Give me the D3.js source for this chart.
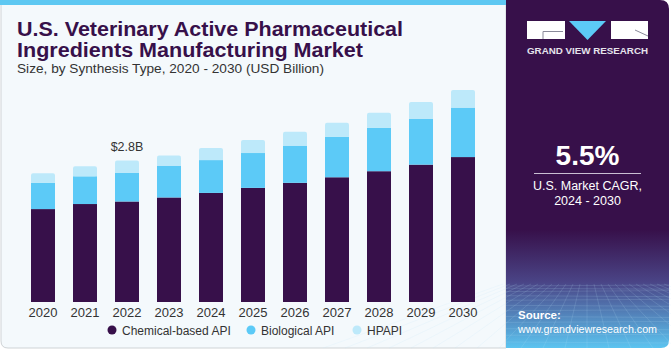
<!DOCTYPE html>
<html>
<head>
<meta charset="utf-8">
<script src="https://cdn.jsdelivr.net/npm/d3@7"></script>
<style>
  html, body { margin: 0; padding: 0; background: #ffffff; }
  svg { display: block; font-family: "Liberation Sans", Arial, sans-serif; }
</style>
</head>
<body>
<div id="chart"></div>
<script>
// data (USD Billion)
var years = ['2020', '2021', '2022', '2023', '2024', '2025', '2026', '2027', '2028', '2029', '2030'];
var chemical = [1.84, 1.94, 1.99, 2.07, 2.16, 2.26, 2.36, 2.47, 2.59, 2.72, 2.87];
var biological = [0.52, 0.55, 0.57, 0.63, 0.65, 0.69, 0.73, 0.80, 0.86, 0.91, 0.98];
var hpapi = [0.19, 0.20, 0.24, 0.20, 0.24, 0.26, 0.28, 0.28, 0.30, 0.33, 0.35];
var seriesNames = ['Chemical-based API', 'Biological API', 'HPAPI'];
var seriesColors = ['#37104a', '#5ccaf7', '#bde9fa'];
var callout = {year: '2022', label: '$2.8B'};

var W = 671, H = 350;

var svg = d3.select('#chart').append('svg')
    .attr('width', W).attr('height', H);

var defs = svg.append('defs');

// left panel
svg.append('path')
    .attr('d', 'M1,4 H506 V348 H8 Q1,348 1,341 Z')
    .attr('fill', '#f4f9fc')
    .attr('stroke', '#cfd3d6')
    .attr('stroke-width', 1);
svg.append('rect')
    .attr('x', 0).attr('y', 0).attr('width', 506).attr('height', 5)
    .attr('fill', '#5ec8f2');

// right panel
var grad = defs.append('linearGradient')
    .attr('id', 'panelGrad').attr('x1', 0).attr('y1', 0).attr('x2', 0).attr('y2', 1);
grad.append('stop').attr('offset', '0%').attr('stop-color', '#37104a');
grad.append('stop').attr('offset', '66%').attr('stop-color', '#37104a');
grad.append('stop').attr('offset', '81%').attr('stop-color', '#4a4486');
grad.append('stop').attr('offset', '100%').attr('stop-color', '#5cc4f0');

svg.append('path')
    .attr('d', 'M506,0 H660 Q669,0 669,9 V340 Q669,348 661,348 H506 Z')
    .attr('fill', 'url(#panelGrad)');

// faint grid in the panel bottom
var gridG = svg.append('g').attr('stroke', '#bfe6fb').attr('stroke-opacity', 0.22).attr('stroke-width', 0.7);
d3.range(0, 14).forEach(function(i) {
    var yy = 286 + Math.pow(i, 1.35) * 2.2;
    if (yy < 347) gridG.append('line').attr('x1', 506).attr('x2', 669).attr('y1', yy).attr('y2', yy + (i % 2 ? 1 : -1));
});
d3.range(-12, 13).forEach(function(i) {
    gridG.append('line')
        .attr('x1', 587 + i * 7).attr('y1', 284)
        .attr('x2', 587 + i * 22).attr('y2', 348);
});

// logo
var logo = svg.append('g');
logo.append('rect').attr('x', 527).attr('y', 21).attr('width', 38).attr('height', 18).attr('fill', '#ffffff');
logo.append('path').attr('d', 'M569,21 H606 L587.5,40 Z').attr('fill', '#5ccaf7');
logo.append('rect').attr('x', 611).attr('y', 21).attr('width', 37).attr('height', 18).attr('fill', '#ffffff');
logo.append('path').attr('d', 'M543,39 V31.5 H563').attr('fill', 'none').attr('stroke', '#8a8a9a').attr('stroke-width', 1);
logo.append('path').attr('d', 'M635,30 L648,36').attr('fill', 'none').attr('stroke', '#8a8a9a').attr('stroke-width', 1);
logo.append('text')
    .attr('x', 527).attr('y', 54)
    .attr('textLength', 121).attr('lengthAdjust', 'spacingAndGlyphs')
    .attr('font-size', 9.5).attr('font-weight', 'bold').attr('fill', '#e6e3ec')
    .text('GRAND VIEW RESEARCH');

// CAGR
svg.append('text')
    .attr('x', 587.5).attr('y', 165).attr('text-anchor', 'middle')
    .attr('font-size', 28).attr('font-weight', 'bold').attr('fill', '#ffffff')
    .text('5.5%');
svg.append('line')
    .attr('x1', 534).attr('x2', 641).attr('y1', 173.5).attr('y2', 173.5)
    .attr('stroke', '#c9bfd3').attr('stroke-width', 1.2);
svg.append('text')
    .attr('x', 587.5).attr('y', 190).attr('text-anchor', 'middle')
    .attr('font-size', 12.5).attr('fill', '#ffffff')
    .text('U.S. Market CAGR,');
svg.append('text')
    .attr('x', 587.5).attr('y', 205).attr('text-anchor', 'middle')
    .attr('font-size', 12.5).attr('fill', '#ffffff')
    .text('2024 - 2030');

// source
svg.append('text')
    .attr('x', 518).attr('y', 319)
    .attr('font-size', 11.5).attr('font-weight', 'bold').attr('fill', '#ffffff')
    .text('Source:');
svg.append('text')
    .attr('x', 518).attr('y', 333)
    .attr('textLength', 139).attr('lengthAdjust', 'spacingAndGlyphs')
    .attr('font-size', 11.5).attr('fill', '#ffffff')
    .text('www.grandviewresearch.com');

// title
svg.append('text')
    .attr('x', 17).attr('y', 36)
    .attr('textLength', 386).attr('lengthAdjust', 'spacingAndGlyphs')
    .attr('font-size', 20).attr('font-weight', 'bold').attr('fill', '#37104a')
    .text('U.S. Veterinary Active Pharmaceutical');
svg.append('text')
    .attr('x', 17).attr('y', 57)
    .attr('textLength', 346).attr('lengthAdjust', 'spacingAndGlyphs')
    .attr('font-size', 20).attr('font-weight', 'bold').attr('fill', '#37104a')
    .text('Ingredients Manufacturing Market');
svg.append('text')
    .attr('x', 17).attr('y', 73)
    .attr('textLength', 307).attr('lengthAdjust', 'spacingAndGlyphs')
    .attr('font-size', 13).attr('fill', '#333333')
    .text('Size, by Synthesis Type, 2020 - 2030 (USD Billion)');

// scales
var x = d3.scaleBand()
    .domain(years)
    .range([10, 496])
    .paddingInner(0.4286)
    .paddingOuter(0.5);

var y = d3.scaleLinear()
    .domain([0, 4.2])
    .range([302, 302 - 4.2 * 50.5]);

var table = years.map(function(yr, i) {
    return {year: yr, c: chemical[i], b: biological[i], h: hpapi[i]};
});
var stack = d3.stack().keys(['c', 'b', 'h']);
var layers = stack(table);

var barsG = svg.append('g');
layers.forEach(function(layer, li) {
    barsG.selectAll('.bar' + li)
        .data(layer)
        .enter().append('rect')
        .attr('class', 'bar' + li)
        .attr('x', function(d) { return x(d.data.year); })
        .attr('width', x.bandwidth())
        .attr('y', function(d) { return y(d[1]); })
        .attr('height', function(d) { return y(d[0]) - y(d[1]); })
        .attr('rx', li === 2 ? 2 : 0)
        .attr('fill', seriesColors[li]);
});
// small fix so the rounded top only shows at the top of the HPAPI segment
barsG.selectAll('.fix')
    .data(layers[2])
    .enter().append('rect')
    .attr('x', function(d) { return x(d.data.year); })
    .attr('width', x.bandwidth())
    .attr('y', function(d) { return y(d[0]) - 3; })
    .attr('height', 3)
    .attr('fill', seriesColors[2]);

// callout
var cIdx = years.indexOf(callout.year);
svg.append('text')
    .attr('x', x(callout.year) + x.bandwidth() / 2)
    .attr('y', y(layers[2][cIdx][1]) - 10)
    .attr('text-anchor', 'middle')
    .attr('font-size', 12.5).attr('fill', '#333333')
    .text(callout.label);

// x axis
var xAxis = svg.append('g')
    .attr('transform', 'translate(0,302)')
    .call(d3.axisBottom(x).tickSize(0).tickPadding(6));
xAxis.select('.domain').remove();
xAxis.selectAll('text')
    .attr('font-family', '"Liberation Sans", Arial, sans-serif')
    .attr('font-size', 13).attr('fill', '#333333');

// legend
var legendX = [112, 251, 357];
var legend = svg.append('g');
seriesNames.forEach(function(name, i) {
    legend.append('circle')
        .attr('cx', legendX[i]).attr('cy', 330).attr('r', 4.5)
        .attr('fill', seriesColors[i]);
    legend.append('text')
        .attr('x', legendX[i] + 10).attr('y', 334.5)
        .attr('font-size', 12).attr('fill', '#333333')
        .text(name);
});
</script>
</body>
</html>
